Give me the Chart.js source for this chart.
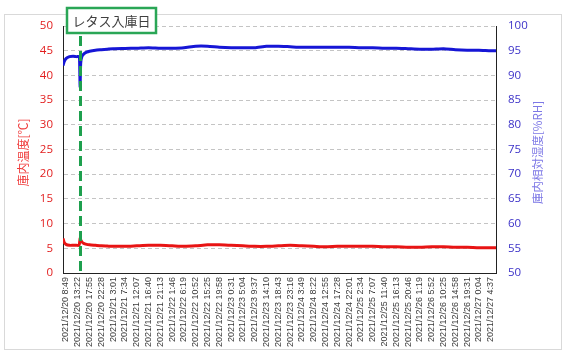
<!DOCTYPE html>
<html>
<head>
<meta charset="utf-8">
<script src="https://cdn.jsdelivr.net/npm/chart.js@4.4.0/dist/chart.umd.min.js"></script>
<style>
  html, body { margin: 0; padding: 0; background: #fff; }
  #wrap { width: 568px; height: 353px; }
</style>
</head>
<body>
<div id="wrap"><canvas id="chart1" width="568" height="353"></canvas></div>
<script>
// tick labels on the time axis (one every 4h33m)
const tickLabels = [
  '2021/12/20 8:49', '2021/12/20 13:22', '2021/12/20 17:55', '2021/12/20 22:28',
  '2021/12/21 3:01', '2021/12/21 7:34', '2021/12/21 12:07', '2021/12/21 16:40', '2021/12/21 21:13',
  '2021/12/22 1:46', '2021/12/22 6:19', '2021/12/22 10:52', '2021/12/22 15:25', '2021/12/22 19:58',
  '2021/12/23 0:31', '2021/12/23 5:04', '2021/12/23 9:37', '2021/12/23 14:10', '2021/12/23 18:43', '2021/12/23 23:16',
  '2021/12/24 3:49', '2021/12/24 8:22', '2021/12/24 12:55', '2021/12/24 17:28', '2021/12/24 22:01',
  '2021/12/25 2:34', '2021/12/25 7:07', '2021/12/25 11:40', '2021/12/25 16:13', '2021/12/25 20:46',
  '2021/12/26 1:19', '2021/12/26 5:52', '2021/12/26 10:25', '2021/12/26 14:58', '2021/12/26 19:31',
  '2021/12/27 0:04', '2021/12/27 4:37'
];

// sample positions, in tick-label steps
const pos = [
  -0.25, -0.15, 0, 0.3, 0.6, 0.9, 1.1, 1.15, 1.2, 1.25, 1.35, 1.5, 1.75,
  2, 2.5, 3, 3.5, 4, 5, 6, 7, 8, 9, 10, 11, 12, 13, 14, 15, 16, 17, 18, 19,
  20, 21, 22, 23, 24, 25, 26, 27, 28, 29, 30, 31, 32, 33, 34, 35, 36, 36.45
];

// 庫内温度 [℃]
const tempC = [
  7.0, 6.2, 5.8, 5.6, 5.6, 5.6, 5.6, 6.0, 7.0, 6.7, 6.3, 6.0, 5.8,
  5.7, 5.6, 5.5, 5.45, 5.4, 5.4, 5.5, 5.6, 5.6, 5.5, 5.4, 5.5, 5.7, 5.7, 5.6, 5.5, 5.4, 5.4, 5.5, 5.6,
  5.5, 5.4, 5.3, 5.4, 5.4, 5.4, 5.4, 5.3, 5.3, 5.2, 5.2, 5.3, 5.3, 5.2, 5.2, 5.1, 5.1, 5.1
];

// 庫内相対湿度 [%RH]
const humidity = [
  92.0, 92.8, 93.4, 93.8, 93.9, 93.8, 93.8, 93.5, 87.7, 92.5, 93.8, 94.3, 94.7,
  94.9, 95.1, 95.2, 95.3, 95.4, 95.45, 95.5, 95.6, 95.5, 95.5, 95.6, 95.9, 95.9, 95.7, 95.6, 95.6, 95.6, 95.9, 95.9, 95.8,
  95.7, 95.7, 95.7, 95.7, 95.7, 95.6, 95.6, 95.5, 95.5, 95.4, 95.3, 95.3, 95.4, 95.2, 95.1, 95.1, 95.0, 95.0
];

const arrivalPos = 1.2;
const arrivalLabel = 'レタス入庫日';

const overlay = {
  id: 'overlay',
  beforeDraw(chart) {
    const ctx = chart.ctx;
    ctx.save();
    ctx.fillStyle = '#fff';
    ctx.fillRect(0, 0, chart.width, chart.height);
    ctx.strokeStyle = '#d9d9d9';
    ctx.lineWidth = 1;
    ctx.strokeRect(4.5, 14.5, 557, 335);
    ctx.restore();
  },
  afterDraw(chart) {
    const { ctx, chartArea, scales } = chart;
    const x = Math.round(scales.x.getPixelForValue(arrivalPos)) + 0.5;
    ctx.save();
    // 入庫日の縦線
    ctx.strokeStyle = '#1ea04e';
    ctx.lineWidth = 3;
    ctx.setLineDash([10, 5]);
    ctx.beginPath();
    ctx.moveTo(x, 36);
    ctx.lineTo(x, chartArea.bottom);
    ctx.stroke();
    ctx.setLineDash([]);
    // ラベルの枠
    ctx.fillStyle = '#fff';
    ctx.fillRect(67, 8, 89, 25);
    ctx.strokeStyle = '#2aa656';
    ctx.lineWidth = 2.5;
    ctx.strokeRect(67, 8, 89, 25);
    ctx.fillStyle = '#404040';
    ctx.font = '13px "Noto Sans CJK JP"';
    ctx.textAlign = 'center';
    ctx.textBaseline = 'middle';
    ctx.fillText(arrivalLabel, 111.5, 21);
    // 軸タイトル
    const midY = (chartArea.top + chartArea.bottom) / 2;
    ctx.font = '12px "Noto Sans CJK JP"';
    ctx.fillStyle = '#f03c3c';
    ctx.translate(23, midY + 3);
    ctx.rotate(-Math.PI / 2);
    ctx.fillText('庫内温度[℃]', 0, 0);
    ctx.rotate(Math.PI / 2);
    ctx.translate(538 - 23, 0);
    ctx.rotate(-Math.PI / 2);
    ctx.fillStyle = '#7d78e6';
    ctx.font = '11.5px "Noto Sans CJK JP"';
    ctx.fillText('庫内相対湿度[%RH]', 0, 0);
    ctx.restore();
  }
};

new Chart(document.getElementById('chart1'), {
  type: 'line',
  data: {
    datasets: [{
      label: '庫内温度[℃]',
      data: pos.map((x, i) => ({ x: x, y: tempC[i] })),
      borderColor: 'rgb(232, 20, 20)',
      borderWidth: 3,
      pointRadius: 0,
      tension: 0.2,
      yAxisID: 'y'
    }, {
      label: '庫内相対湿度[%RH]',
      data: pos.map((x, i) => ({ x: x, y: humidity[i] })),
      borderColor: 'rgb(22, 22, 214)',
      borderWidth: 3,
      pointRadius: 0,
      tension: 0.2,
      yAxisID: 'y1'
    }]
  },
  options: {
    responsive: false,
    animation: false,
    layout: { padding: { top: 26, left: 0, right: 0, bottom: 0 } },
    plugins: { legend: { display: false }, tooltip: { enabled: false } },
    scales: {
      x: {
        type: 'linear',
        min: -0.25,
        max: 36.45,
        afterFit: (s) => { s.height = 80; },
        grid: { display: false, drawTicks: false },
        border: { display: true, color: '#222', width: 1 },
        ticks: {
          stepSize: 1,
          includeBounds: false,
          autoSkip: false,
          maxRotation: 90,
          minRotation: 90,
          padding: 4,
          color: '#3a3a3a',
          font: { family: 'Liberation Sans', size: 9 },
          callback: (v) => Number.isInteger(v) && tickLabels[v] ? tickLabels[v] : ''
        }
      },
      y: {
        position: 'left',
        min: 0,
        max: 50,
        afterFit: (s) => { s.width = 63; },
        grid: { color: '#c4c4c4', drawTicks: false, lineWidth: (c) => c.tick.value === 0 ? 0 : 1 },
        border: { display: true, color: '#222', width: 1, dash: [4, 3] },
        ticks: {
          stepSize: 5,
          padding: 10,
          color: 'rgb(226, 30, 30)',
          font: { family: 'Open Sans', size: 11.5 }
        }
      },
      y1: {
        position: 'right',
        min: 50,
        max: 100,
        afterFit: (s) => { s.width = 72; },
        grid: { display: false, drawTicks: false },
        border: { display: true, color: '#222', width: 1 },
        ticks: {
          stepSize: 5,
          padding: 12,
          color: 'rgb(60, 50, 200)',
          font: { family: 'Open Sans', size: 11.5 }
        }
      }
    }
  },
  plugins: [overlay]
});
</script>
</body>
</html>
